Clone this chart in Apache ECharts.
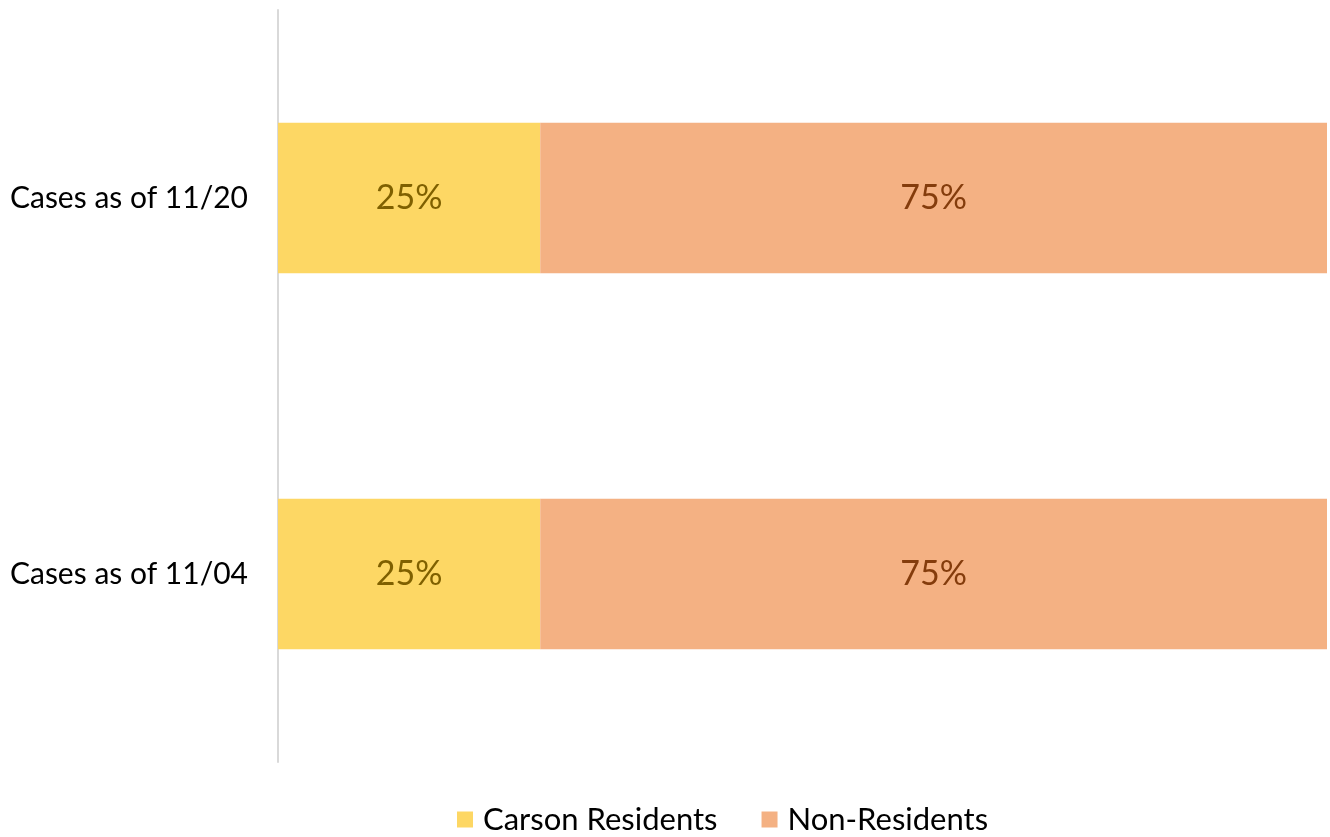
<!DOCTYPE html>
<html>
<head>
<meta charset="utf-8">
<script src="https://cdn.jsdelivr.net/npm/echarts@6/dist/echarts.min.js"></script>
<style>
  html, body { margin: 0; padding: 0; background: #fff; }
  #chart { width: 1330px; height: 837px; }
</style>
</head>
<body>
<div id="chart"></div>
<script>
// categories bottom -> top
const categories = ["Cases as of 11/04", "Cases as of 11/20"];
const carsonResidents = [25, 25];
const nonResidents = [75, 75];

const fontFamily = "Lato, 'Noto Sans', sans-serif";

const myChart = echarts.init(document.getElementById("chart"));
const option = {
  animation: false,
  grid: { left: 278, right: 3, top: 10, bottom: 75 },
  legend: {
    left: 452,
    top: 799,
    itemWidth: 16,
    itemHeight: 16,
    itemGap: 44,
    icon: "rect",
    textStyle: { fontFamily, fontSize: 31, color: "#000", padding: [0, 0, 0, 5] },
    data: ["Carson Residents", "Non-Residents"],
  },
  xAxis: {
    type: "value",
    min: 0,
    max: 100,
    show: false,
  },
  yAxis: {
    type: "category",
    data: categories,
    axisLine: { show: true, lineStyle: { color: "#d9d9d9", width: 2 } },
    axisTick: { show: false },
    axisLabel: { fontFamily, fontSize: 30, color: "#000", margin: 30 },
  },
  series: [
    {
      name: "Carson Residents",
      type: "bar",
      stack: "total",
      barWidth: "40%",
      itemStyle: { color: "#FDD764" },
      label: {
        show: true,
        formatter: "{c}%",
        fontFamily,
        fontSize: 34,
        color: "#7F6000",
      },
      data: carsonResidents,
    },
    {
      name: "Non-Residents",
      type: "bar",
      stack: "total",
      itemStyle: { color: "#F4B183" },
      label: {
        show: true,
        formatter: "{c}%",
        fontFamily,
        fontSize: 34,
        color: "#843C0C",
      },
      data: nonResidents,
    },
  ],
};
myChart.setOption(option);
</script>
</body>
</html>
